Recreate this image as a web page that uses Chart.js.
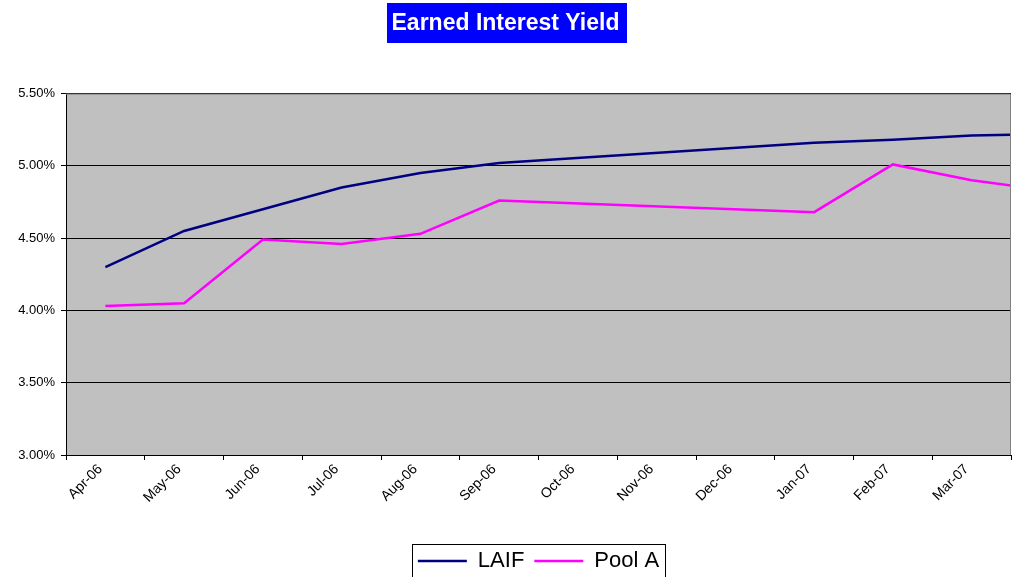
<!DOCTYPE html>
<html>
<head>
<meta charset="utf-8">
<script src="https://cdn.jsdelivr.net/npm/chart.js@4"></script>
<style>
  html, body { margin: 0; padding: 0; background: #fff; }
  #wrap { width: 1015px; height: 577px; position: relative; }
</style>
</head>
<body>
<div id="wrap"><canvas id="chart"></canvas></div>
<script>
// Earned Interest Yield: LAIF vs Pool A (valores en %)
const MONTHS = ["Apr-06", "May-06", "Jun-06", "Jul-06", "Aug-06", "Sep-06", "Oct-06", "Nov-06", "Dec-06", "Jan-07", "Feb-07", "Mar-07"];
// el último valor (Apr-07) cae fuera del eje y queda recortado
const LAIF = [4.30, 4.55, 4.70, 4.85, 4.95, 5.02, null, null, null, 5.16, 5.18, 5.21, 5.22];
const POOL_A = [4.03, 4.05, 4.49, 4.46, 4.53, 4.76, null, null, null, 4.68, 5.01, 4.90, 4.83];
const Y_TICKS = [3.0, 3.5, 4.0, 4.5, 5.0, 5.5];
const COLORS = { laif: "#000080", pool: "#ff00ff", plot: "#c0c0c0", frame: "#808080", title: "#0000ff" };
const FONT = "'Liberation Sans', Arial, sans-serif";

Chart.defaults.font.family = FONT;
Chart.defaults.color = "#000";

const toPoints = (arr) => arr.map((y, i) => ({ x: i, y }));

// fondo gris del área, marco, caja azul del título y borde de la leyenda
const decor = {
  id: "decor",
  beforeDraw(chart) {
    const { ctx, chartArea: a } = chart;
    ctx.save();
    ctx.fillStyle = COLORS.plot;
    ctx.fillRect(a.left, a.top, a.right - a.left, a.bottom - a.top);
    const t = chart.titleBlock;
    ctx.font = "bold 23px " + FONT;
    const w = ctx.measureText(chart.options.plugins.title.text).width + 12;
    const cx = (t.left + t.right) / 2 + 1;
    ctx.fillStyle = COLORS.title;
    ctx.fillRect(Math.round(cx - w / 2), 3, Math.round(w), 40);
    ctx.restore();
  },
  afterDraw(chart) {
    const { ctx, chartArea: a } = chart;
    ctx.save();
    ctx.strokeStyle = COLORS.frame;
    ctx.lineWidth = 1;
    ctx.beginPath();
    ctx.moveTo(a.left, a.top + 0.5); ctx.lineTo(a.right - 0.5, a.top + 0.5); ctx.lineTo(a.right - 0.5, a.bottom);
    ctx.stroke();
    const hb = chart.legend.legendHitBoxes;
    if (hb && hb.length) {
      const l = Math.min(...hb.map((b) => b.left)) - 6;
      const r = Math.max(...hb.map((b) => b.left + b.width)) + 6;
      const top = Math.min(...hb.map((b) => b.top)) - 6;
      ctx.strokeStyle = "#000";
      ctx.strokeRect(Math.round(l) + 0.5, Math.round(top) + 0.5, Math.round(r - l), 60);
    }
    ctx.restore();
  },
};

new Chart("chart", {
  type: "line",
  data: {
    datasets: [
      { label: "LAIF", data: toPoints(LAIF), borderColor: COLORS.laif, backgroundColor: COLORS.laif, borderWidth: 2.5, pointRadius: 0, spanGaps: true, tension: 0 },
      { label: "Pool A", data: toPoints(POOL_A), borderColor: COLORS.pool, backgroundColor: COLORS.pool, borderWidth: 2.5, pointRadius: 0, spanGaps: true, tension: 0 },
    ],
  },
  options: {
    responsive: true,
    maintainAspectRatio: false,
    animation: false,
    layout: { padding: { left: 0, right: 4, top: 0, bottom: -5 } },
    plugins: {
      title: { display: true, text: "Earned Interest Yield", color: "#fff", font: { size: 23, weight: "bold", lineHeight: 1.2 }, padding: { top: 10, bottom: 56 } },
      legend: {
        position: "bottom",
        fullSize: false,
        labels: { usePointStyle: true, pointStyle: "line", pointStyleWidth: 49, font: { size: 22 }, color: "#000", padding: 10 },
      },
      tooltip: { enabled: false },
    },
    scales: {
      x: {
        type: "linear",
        min: -0.5, max: 11.5,
        afterBuildTicks: (s) => { s.ticks = MONTHS.map((_, i) => ({ value: i })); },
        grid: { offset: true, drawOnChartArea: false, tickLength: 5, color: "#000" },
        border: { color: "#000", width: 1 },
        ticks: { minRotation: 45, maxRotation: 45, autoSkip: false, font: { size: 14 }, color: "#000", padding: 1, labelOffset: -5, callback: (v) => MONTHS[v] },
        afterFit: (s) => { s.height = 85; },
      },
      y: {
        min: 3, max: 5.5,
        afterBuildTicks: (s) => { s.ticks = Y_TICKS.map((v) => ({ value: v })); },
        grid: { color: "#000", tickLength: 5 },
        border: { color: "#000", width: 1 },
        ticks: { font: { size: 13 }, color: "#000", padding: 6, callback: (v) => v.toFixed(2) + "%" },
        afterFit: (s) => { s.width = 66; },
      },
    },
  },
  plugins: [decor],
});
</script>
</body>
</html>
